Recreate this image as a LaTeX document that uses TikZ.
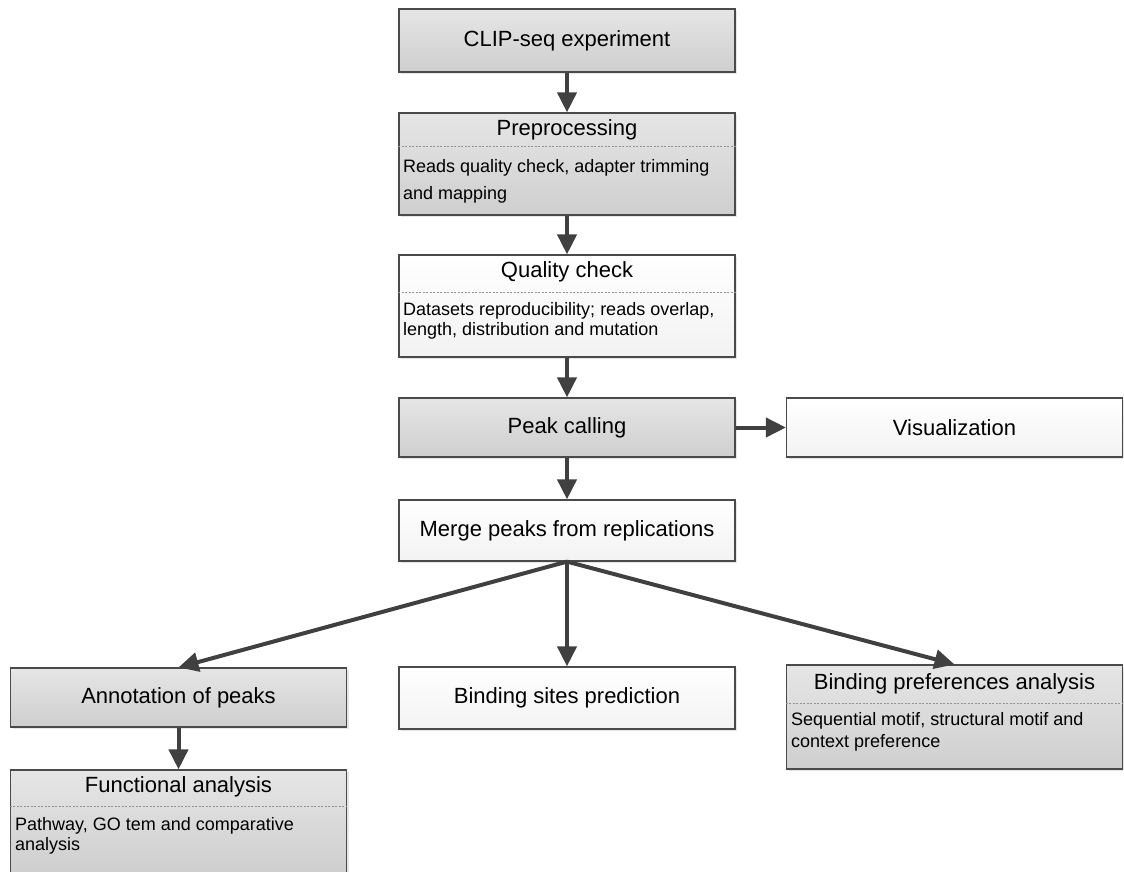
\documentclass[tikz,border=0pt]{standalone}
\usepackage{fontspec}
\setmainfont{Liberation Sans}
\usetikzlibrary{arrows.meta,shadows}
\definecolor{edgec}{HTML}{4A4A4A}
\definecolor{flowc}{HTML}{404040}
\tikzset{
  box/.style={draw=edgec,line width=1.2pt,minimum width=336pt,inner sep=0pt,
    font=\fontsize{22}{26}\selectfont,
    drop shadow={opacity=.2,shadow xshift=2pt,shadow yshift=-2pt}},
  darkbox/.style={box,top color=gray!20,bottom color=gray!38},
  lightbox/.style={box,top color=white,bottom color=gray!10},
  head/.style={anchor=base,inner sep=0pt,font=\fontsize{22}{26}\selectfont},
  % base of a two-line body is the baseline of its last line
  body/.style={anchor=base west,inner sep=0pt,align=left,font=\fontsize{18}{#1}\selectfont},
  body/.default=22pt,
  sep/.style={gray!85,dash pattern=on 2pt off 1.5pt,line width=.8pt},
  flow/.style={flowc,line width=4pt,-{Triangle[length=20pt,width=19pt]}},
}
\begin{document}
\begin{tikzpicture}[x=1pt,y=-1pt]
\useasboundingbox (0,0) rectangle (1124,871);
% main column
\node[darkbox,minimum height=63pt] (clip) at (567,40.5) {CLIP-seq experiment};
\node[darkbox,minimum height=102pt] (prep) at (567,164) {};
\node[head] (prephead) at (567,135) {Preprocessing};
\draw[sep] (prep.west |- 0,146) -- (prep.east |- 0,146);
\node[body=27pt] (prepbody) at (403,199) {Reads quality check, adapter trimming\\and mapping};
\node[lightbox,minimum height=102pt] (qual) at (567,306) {};
\node[head] (qualhead) at (567,277) {Quality check};
\draw[sep] (qual.west |- 0,292) -- (qual.east |- 0,292);
\node[body=20pt] (qualbody) at (403,335) {Datasets reproducibility; reads overlap,\\length, distribution and mutation};
\node[darkbox,minimum height=59pt] (peak) at (567,427.5) {Peak calling};
\node[lightbox,minimum height=59pt] (vis) at (954.5,427.5) {Visualization};
\node[lightbox,minimum height=61pt] (merge) at (567,530.5) {Merge peaks from replications};
% bottom row
\node[darkbox,minimum height=59pt] (annot) at (178.5,697.5) {Annotation of peaks};
\node[lightbox,minimum height=62pt] (sites) at (567,698) {Binding sites prediction};
\node[darkbox,minimum height=104pt] (pref) at (954.5,717) {};
\node[head] (prefhead) at (954.5,689) {Binding preferences analysis};
\draw[sep] (pref.west |- 0,703) -- (pref.east |- 0,703);
\node[body=22pt] (prefbody) at (791,747) {Sequential motif, structural motif and\\context preference};
\node[darkbox,minimum height=104pt] (func) at (178.5,822) {};
\node[head] (funchead) at (178.5,792) {Functional analysis};
\draw[sep] (func.west |- 0,806) -- (func.east |- 0,806);
\node[body=20pt] (funcbody) at (15,850) {Pathway, GO tem and comparative\\analysis};
% arrows
\foreach \a/\b in {clip/prep,prep/qual,qual/peak,peak/merge,annot/func}
  \draw[flow] (\a.south) -- (\b.north);
\draw[flow] (peak.east) -- (vis.west);
\foreach \b in {annot,sites,pref}
  \draw[flow] (merge.south) -- (\b.north);
\end{tikzpicture}
\end{document}
